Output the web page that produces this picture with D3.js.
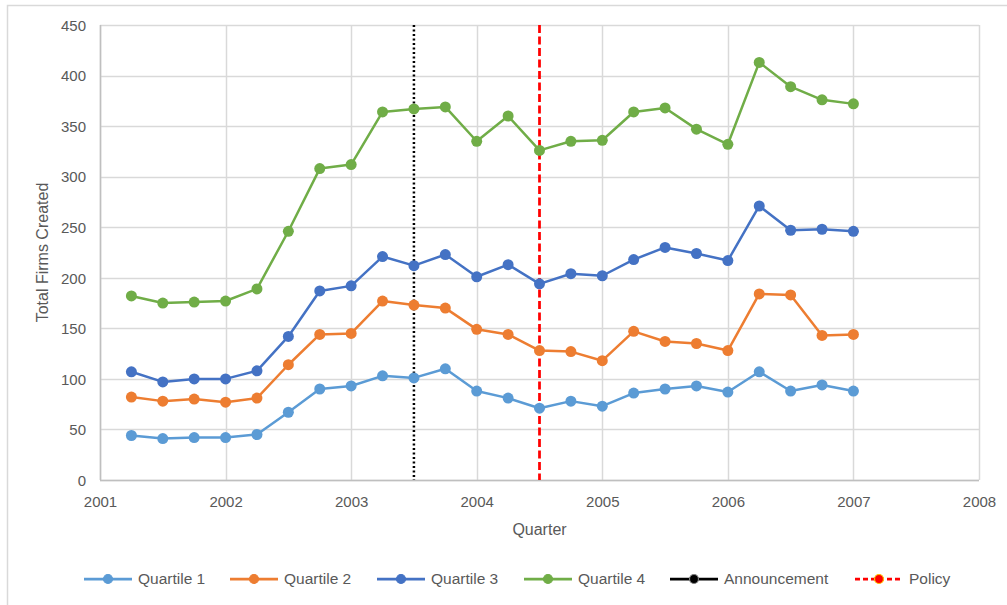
<!DOCTYPE html>
<html><head><meta charset="utf-8">
<script src="https://cdn.jsdelivr.net/npm/d3@7"></script>
<style>body{margin:0;background:#fff}svg{display:block}text{font-family:"Liberation Sans",Arial,sans-serif;fill:#595959}</style>
</head><body><div id="chart"></div>
<script>
const quarters = [2001.25,2001.5,2001.75,2002,2002.25,2002.5,2002.75,2003,2003.25,2003.5,2003.75,2004,2004.25,2004.5,2004.75,2005,2005.25,2005.5,2005.75,2006,2006.25,2006.5,2006.75,2007];
const quartile1 = [44,41,42,42,45,67,90,93,103,101,110,88,81,71,78,73,86,90,93,87,107,88,94,88];
const quartile2 = [82,78,80,77,81,114,144,145,177,173,170,149,144,128,127,118,147,137,135,128,184,183,143,144];
const quartile3 = [107,97,100,100,108,142,187,192,221,212,223,201,213,194,204,202,218,230,224,217,271,247,248,246];
const quartile4 = [182,175,176,177,189,246,308,312,364,367,369,335,360,326,335,336,364,368,347,332,413,389,376,372];
const announcementX = 2003.5;
const policyX = 2004.5;
const xTicks = [2001,2002,2003,2004,2005,2006,2007,2008];
const yTicks = [0,50,100,150,200,250,300,350,400,450];
const seriesNames = ["Quartile 1","Quartile 2","Quartile 3","Quartile 4"];
const seriesColors = ["#5B9BD5","#ED7D31","#4472C4","#70AD47"];
const seriesValues = [quartile1,quartile2,quartile3,quartile4];

const W=1007,H=605;
const svg=d3.select("#chart").append("svg").attr("width",W).attr("height",H);
svg.append("rect").attr("x",7.5).attr("y",5.5).attr("width",W+10).attr("height",H+10).attr("fill","#fff").attr("stroke","#d9d9d9").attr("stroke-width",1.5);

const x=d3.scaleLinear().domain([2001,2008]).range([100,979]);
const y=d3.scaleLinear().domain([0,450]).range([480,25]);

const g=svg.append("g");
g.selectAll(".hg").data(yTicks).join("line").attr("x1",x(2001)).attr("x2",x(2008))
 .attr("y1",d=>Math.round(y(d))+0.5).attr("y2",d=>Math.round(y(d))+0.5).attr("stroke","#d9d9d9").attr("stroke-width",1.5);
g.selectAll(".vg").data(xTicks).join("line").attr("y1",y(0)).attr("y2",y(450))
 .attr("x1",d=>Math.round(x(d))+0.5).attr("x2",d=>Math.round(x(d))+0.5).attr("stroke","#d9d9d9").attr("stroke-width",1.5);
g.append("line").attr("x1",x(2001)).attr("x2",x(2008)).attr("y1",Math.round(y(0))+0.5).attr("y2",Math.round(y(0))+0.5).attr("stroke","#bfbfbf").attr("stroke-width",1.5);
g.append("line").attr("x1",Math.round(x(2001))+0.5).attr("x2",Math.round(x(2001))+0.5).attr("y1",y(0)).attr("y2",y(450)).attr("stroke","#bfbfbf").attr("stroke-width",1.5);

const yAxis=d3.axisLeft(y).tickValues(yTicks).tickSize(0).tickPadding(14);
const ya=svg.append("g").attr("transform",`translate(${x(2001)},0)`).call(yAxis);
ya.select(".domain").remove();
ya.selectAll("text").style("font-size","15px").attr("fill","#595959").attr("dy","0.35em");
const xAxis=d3.axisBottom(x).tickValues(xTicks).tickFormat(d3.format("d")).tickSize(0).tickPadding(16);
const xa=svg.append("g").attr("transform",`translate(0,${y(0)})`).call(xAxis);
xa.select(".domain").remove();
xa.selectAll("text").style("font-size","15px").attr("fill","#595959");

svg.append("text").attr("transform",`translate(48,${(y(0)+y(450))/2}) rotate(-90)`).attr("text-anchor","middle").style("font-size","16px").text("Total Firms Created");
svg.append("text").attr("x",(x(2001)+x(2008))/2).attr("y",535).attr("text-anchor","middle").style("font-size","16px").text("Quarter");

svg.append("line").attr("x1",x(announcementX)).attr("x2",x(announcementX)).attr("y1",y(450)).attr("y2",y(0))
 .attr("stroke","#000").attr("stroke-width",2.5).attr("stroke-dasharray","2,2.5");
svg.append("line").attr("x1",x(policyX)).attr("x2",x(policyX)).attr("y1",y(450)).attr("y2",y(0))
 .attr("stroke","#FF0000").attr("stroke-width",2.75).attr("stroke-dasharray","8,3.5");

const line=d3.line().x((d,i)=>x(quarters[i])).y(d=>y(d));
seriesValues.forEach((vals,k)=>{
  svg.append("path").datum(vals).attr("d",line).attr("fill","none").attr("stroke",seriesColors[k]).attr("stroke-width",2.5).attr("stroke-linejoin","round");
  svg.append("g").selectAll("circle").data(vals).join("circle").attr("cx",(d,i)=>x(quarters[i])).attr("cy",d=>y(d)).attr("r",5.5).attr("fill",seriesColors[k]);
});

const legY=579;
const legend=[
 {name:"Quartile 1",color:"#5B9BD5",x0:84,dash:null,mfill:"#5B9BD5",mstroke:"#5B9BD5"},
 {name:"Quartile 2",color:"#ED7D31",x0:230,dash:null,mfill:"#ED7D31",mstroke:"#ED7D31"},
 {name:"Quartile 3",color:"#4472C4",x0:377,dash:null,mfill:"#4472C4",mstroke:"#4472C4"},
 {name:"Quartile 4",color:"#70AD47",x0:524,dash:null,mfill:"#70AD47",mstroke:"#70AD47"},
 {name:"Announcement",color:"#000",x0:670,dash:null,mfill:"#000",mstroke:"#7f7f7f"},
 {name:"Policy",color:"#FF0000",x0:855,dash:"5,3",mfill:"#FF0000",mstroke:"#FFC000"}
];
legend.forEach(l=>{
  const lg=svg.append("g");
  lg.append("line").attr("x1",l.x0).attr("x2",l.x0+48).attr("y1",legY).attr("y2",legY).attr("stroke",l.color).attr("stroke-width",2.75).attr("stroke-dasharray",l.dash);
  lg.append("circle").attr("cx",l.x0+24).attr("cy",legY).attr("r",4.5).attr("fill",l.mfill).attr("stroke",l.mstroke).attr("stroke-width",1.2);
  lg.append("text").attr("x",l.x0+54).attr("y",legY).attr("dy","0.35em").style("font-size","15.5px").text(l.name);
});
</script></body></html>
